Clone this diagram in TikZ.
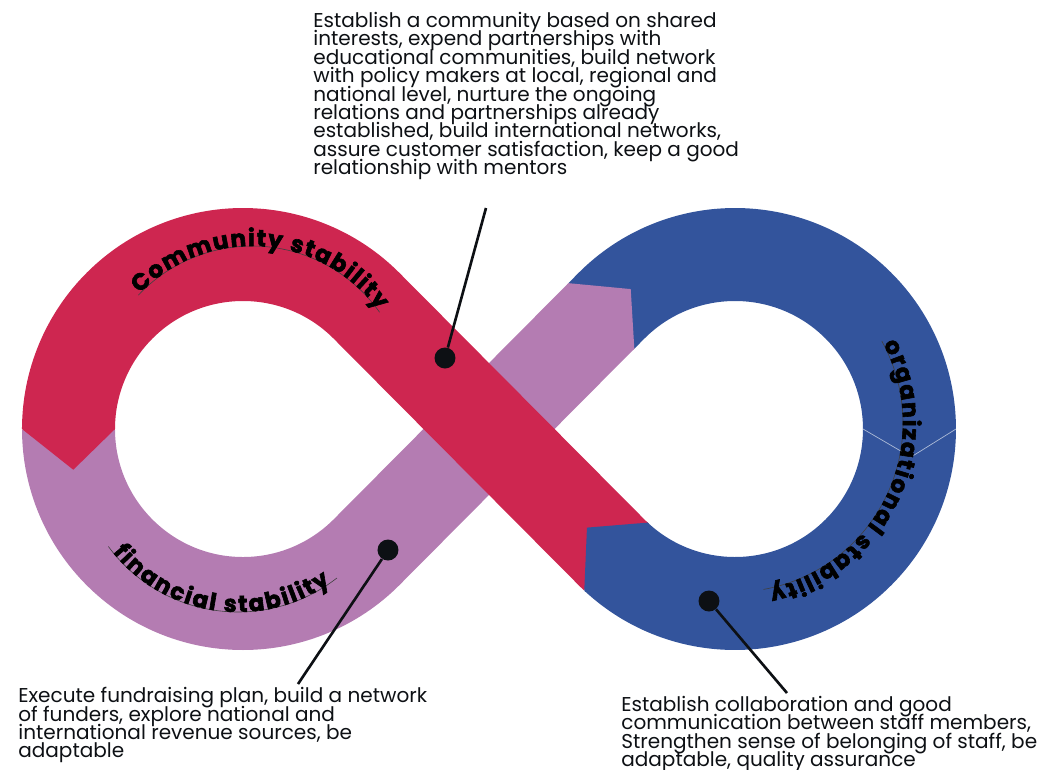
\documentclass[tikz,border=0pt]{standalone}
\usepackage{fontspec}
\setmainfont{Poppins}
\newfontfamily\lblfont{Poppins}[BoldFeatures={FakeBold=2.6}]
\newcommand\descfont{\fontsize{11.4}{10.45}\selectfont\setlength{\lineskiplimit}{-20pt}\relax}
\usetikzlibrary{decorations.text}
\definecolor{redband}{HTML}{CE2650}
\definecolor{purpleband}{HTML}{B47CB2}
\definecolor{blueband}{HTML}{33549C}
\definecolor{dotink}{HTML}{0D1014}

\begin{document}
\begin{tikzpicture}[x=0.02cm, y=0.02cm,
  band/.style={line width=1.86cm},
  dot/.style={circle, fill=dotink, minimum size=0.42cm, inner sep=0pt},
  callout/.style={draw=dotink, line width=1.5pt},
  desc/.style={anchor=north west, inner sep=0pt, align=left, text=dotink, font=\descfont},
  guide/.style={draw=black!75, line width=0.35pt},
  lbl/.style={decorate, decoration={text along path, text align={fit to path},
              text={|\lblfont\bfseries\fontsize{13.2}{13.2}\selectfont|#1}}}
]
\useasboundingbox (-489,-340) rectangle (566,429);

% the three bands of the loop
\draw[band, purpleband] (-420.5,0) arc[start angle=180, end angle=315.18, radius=174.5] -- (112.35,113.07);
\draw[band, blueband] (112.35,113.07) -- (122.22,123) arc[start angle=135.18, end angle=-133, radius=174.5];
\draw[band, redband] (126.99,-127.62) arc[start angle=-133, end angle=-135.18, radius=174.5]
  -- (-122.22,123) arc[start angle=44.82, end angle=180, radius=174.5];

% arrow heads where one band runs into the next
\fill[purpleband] (77.96,144.43) -- (79.37,145.85) -- (141.72,139.92) -- (145.33,80.29) -- (143.92,78.87) -- cycle;
\fill[blueband] (96.74,-162.99) -- (95.28,-161.63) -- (97.97,-98.60) -- (158.70,-93.61) -- (160.16,-94.97) -- cycle;
\fill[redband] (-467,2) -- (-467,0) -- (-415.68,-40.74) -- (-374,0) -- (-374,2) -- cycle;
\draw[white!60!blueband, line width=0.4pt] (467,0) -- (422,-28) -- (374,0);

% curved labels
\draw[guide, shift={(-237,27)}] (136.8:156) arc[start angle=136.8, end angle=35.1, radius=156];
\path[lbl=Community stability, shift={(-237,27)}] (136:156) arc[start angle=136, end angle=36, radius=156];
\draw[guide, shift={(-251,-22)}] (216.4:161) arc[start angle=216.4, end angle=307.9, radius=161];
\path[lbl=financial stability, shift={(-251,-22)}] (219:161) arc[start angle=219, end angle=305, radius=161];
\draw[guide, shift={(245,6)}] (29:169) arc[start angle=29, end angle=-80, radius=169];
\path[lbl=organizational stability, shift={(245,6)}] (28:169) arc[start angle=28, end angle=-78, radius=169];

\node[dot] (d0) at (-44,71) {};
\node[dot] (d1) at (-101,-121) {};
\node[dot] (d2) at (220,-172) {};
\coordinate (e0) at (-3,221);
\coordinate (e1) at (-191,-255);
\coordinate (e2) at (298,-264);
\draw[callout] (d0)--(e0); \draw[callout] (d1)--(e1); \draw[callout] (d2)--(e2);

\node[desc] (t0) at (-176,417) {Establish a community based on shared\\
  interests, expend partnerships with\\
  educational communities, build network\\
  with policy makers at local, regional and\\
  national level, nurture the ongoing\\
  relations and partnerships already\\
  established, build international networks,\\
  assure customer satisfaction, keep a good\\
  relationship with mentors};
\node[desc] (t1) at (-471,-258) {Execute fundraising plan, build a network\\
  of funders, explore national and\\
  international revenue sources, be\\
  adaptable};
\node[desc] (t2) at (132,-267) {Establish collaboration and good\\
  communication between staff members,\\
  Strengthen sense of belonging of staff, be\\
  adaptable, quality assurance};
\end{tikzpicture}
\end{document}
